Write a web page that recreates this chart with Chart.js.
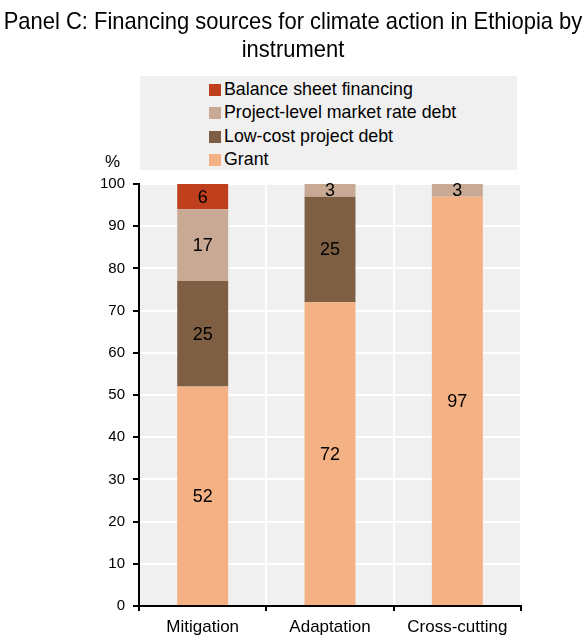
<!DOCTYPE html>
<html>
<head>
<meta charset="utf-8">
<script src="https://cdn.jsdelivr.net/npm/chart.js@4"></script>
<style>
  body { margin: 0; background: #fff; }
  #wrap { position: relative; width: 587px; height: 637px; font-family: 'Liberation Sans', Arial, sans-serif; color: #000; overflow: hidden; }
  #titulo { position: absolute; left: -57px; top: 7px; width: 700px; text-align: center; font-size: 24px; line-height: 28px;
            white-space: nowrap; transform: scaleX(0.915); transform-origin: 50% 0; }
  #legend { position: absolute; left: 140px; top: 76px; width: 377px; height: 94px; background: #f0f0f0; font-size: 17.8px; }
  .item { position: absolute; left: 69px; height: 20px; line-height: 20px; white-space: nowrap; }
  .sw { display: inline-block; width: 12px; height: 12px; margin-right: 3px; vertical-align: -1px; }
  #pct { position: absolute; left: 105px; top: 152px; font-size: 17px; }
</style>
</head>
<body>
<div id="wrap">
  <canvas id="chart" width="587" height="637"></canvas>
  <div id="titulo">Panel C: Financing sources for climate action in Ethiopia by<br>instrument</div>
  <div id="legend"></div>
  <div id="pct">%</div>
</div>
<script>
  // dados
  const categorias = ['Mitigation', 'Adaptation', 'Cross-cutting'];
  const grant = [52, 72, 97];
  const lowCost = [25, 25, 0];
  const marketDebt = [17, 3, 3];
  const balanceSheet = [6, 0, 0];
  const yTicks = [0, 10, 20, 30, 40, 50, 60, 70, 80, 90, 100];

  const fonte = "'Liberation Sans', Arial, sans-serif";

  const series = [
    { label: 'Grant', data: grant, color: '#f4b183' },
    { label: 'Low-cost project debt', data: lowCost, color: '#7f5f43' },
    { label: 'Project-level market rate debt', data: marketDebt, color: '#c8aa94' },
    { label: 'Balance sheet financing', data: balanceSheet, color: '#c0401e' }
  ];

  // legenda em html (ordem invertida)
  let legend = document.getElementById('legend');
  series.slice().reverse().forEach((s, i) => {
    let div = document.createElement('div');
    div.className = 'item';
    div.style.top = (3 + i * 23.3) + 'px';
    div.innerHTML = '<span class="sw" style="background:' + s.color + '"></span>' + s.label;
    legend.appendChild(div);
  });

  // fundo cinza da área do gráfico
  const plotBg = {
    id: 'plotBg',
    beforeDraw(chart) {
      const { ctx, chartArea } = chart;
      ctx.save();
      ctx.fillStyle = '#f0f0f0';
      ctx.fillRect(chartArea.left, chartArea.top, chartArea.right - chartArea.left, chartArea.bottom - chartArea.top);
      ctx.restore();
    }
  };

  // rótulos de valor no meio de cada segmento
  const valueLabels = {
    id: 'valueLabels',
    afterDatasetsDraw(chart) {
      const ctx = chart.ctx;
      ctx.save();
      ctx.font = '18px ' + fonte;
      ctx.fillStyle = '#000';
      ctx.textAlign = 'center';
      ctx.textBaseline = 'middle';
      chart.data.datasets.forEach((ds, i) => {
        chart.getDatasetMeta(i).data.forEach((bar, j) => {
          if (!ds.data[j]) return;
          const mid = (bar.y + bar.base) / 2;
          ctx.fillText(String(ds.data[j]), bar.x, mid + 1);
        });
      });
      ctx.restore();
    }
  };

  new Chart(document.getElementById('chart'), {
    type: 'bar',
    data: {
      labels: categorias,
      datasets: series.map(s => ({
        label: s.label,
        data: s.data,
        backgroundColor: s.color,
        borderWidth: 0,
        barPercentage: 0.4,
        categoryPercentage: 1
      }))
    },
    options: {
      responsive: false,
      animation: false,
      layout: { padding: { top: 184, right: 66, bottom: -7, left: 92 } },
      plugins: {
        legend: { display: false },
        tooltip: { enabled: false },
        title: { display: false }
      },
      scales: {
        x: {
          stacked: true,
          grid: { color: '#ffffff', lineWidth: 2, tickColor: '#000', tickLength: 5, offset: true },
          border: { color: '#000', width: 2 },
          ticks: { color: '#000', font: { family: fonte, size: 17, lineHeight: 1 }, padding: 8 }
        },
        y: {
          stacked: true,
          min: 0,
          max: 100,
          afterBuildTicks: axis => { axis.ticks = yTicks.map(v => ({ value: v })); },
          grid: { color: '#ffffff', lineWidth: 2, tickColor: '#000', tickLength: 6 },
          border: { color: '#000', width: 2 },
          ticks: { color: '#000', font: { family: fonte, size: 15 }, padding: 8 }
        }
      }
    },
    plugins: [plotBg, valueLabels]
  });
</script>
</body>
</html>
